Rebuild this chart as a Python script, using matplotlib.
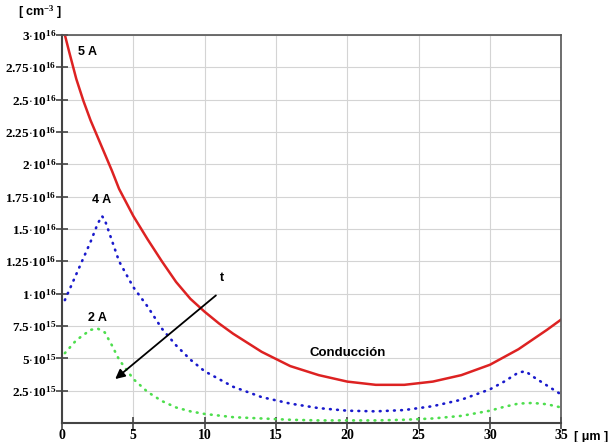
"""
Concentracion de portadores frente a la posicion para varias corrientes.
"""

import matplotlib
matplotlib.use("Agg")
import matplotlib.pyplot as plt

# posicion (um) y concentracion (en unidades de 1e15 cm^-3)
x_5a = [0.2, 0.5, 1, 1.5, 2, 2.5, 3, 3.5, 4, 5, 6, 7, 8, 9, 10, 11, 12, 13,
        14, 16, 18, 20, 22, 24, 26, 28, 30, 32, 34, 35]
n_5a = [30.0, 28.7, 26.6, 24.9, 23.4, 22.1, 20.8, 19.5, 18.1, 16.0, 14.2,
        12.5, 10.9, 9.6, 8.6, 7.7, 6.9, 6.2, 5.5, 4.4, 3.7, 3.2, 2.95, 2.95,
        3.2, 3.7, 4.5, 5.7, 7.2, 8.0]

x_4a = [0.2, 1, 2, 2.5, 2.8, 3, 4, 5, 6, 7, 8, 9, 10, 12, 14, 16, 18, 20, 22,
        24, 26, 28, 30, 31, 32, 32.5, 33, 34, 35]
n_4a = [9.5, 11.5, 14.0, 15.4, 16.0, 15.7, 12.5, 10.5, 9.0, 7.3, 6.0, 4.9,
        4.0, 2.8, 2.0, 1.5, 1.15, 0.95, 0.9, 1.0, 1.3, 1.8, 2.6, 3.2, 3.9,
        4.0, 3.6, 2.9, 2.2]

x_2a = [0.2, 1, 2, 2.5, 3, 3.5, 4, 5, 6, 7, 8, 9, 10, 12, 14, 16, 18, 20, 22,
        24, 26, 28, 30, 31, 32, 33, 34, 35]
n_2a = [5.4, 6.4, 7.2, 7.3, 7.0, 6.0, 4.9, 3.4, 2.4, 1.7, 1.2, 0.9, 0.7,
        0.45, 0.35, 0.25, 0.2, 0.2, 0.2, 0.25, 0.35, 0.55, 0.95, 1.25, 1.5,
        1.55, 1.45, 1.2]

y_ticks = [2.5, 5, 7.5, 10, 12.5, 15, 17.5, 20, 22.5, 25, 27.5, 30]
y_labels = [r"$2.5{\cdot}10^{15}$", r"$5{\cdot}10^{15}$",
            r"$7.5{\cdot}10^{15}$", r"$1{\cdot}10^{16}$",
            r"$1.25{\cdot}10^{16}$", r"$1.5{\cdot}10^{16}$",
            r"$1.75{\cdot}10^{16}$", r"$2{\cdot}10^{16}$",
            r"$2.25{\cdot}10^{16}$", r"$2.5{\cdot}10^{16}$",
            r"$2.75{\cdot}10^{16}$", r"$3{\cdot}10^{16}$"]
x_ticks = [0, 5, 10, 15, 20, 25, 30, 35]

plt.rcParams["mathtext.fontset"] = "custom"
plt.rcParams["mathtext.rm"] = "Liberation Serif:bold"
plt.rcParams["mathtext.it"] = "Liberation Serif:bold"
plt.rcParams["font.family"] = ["Liberation Serif", "DejaVu Serif"]

fig = plt.figure(figsize=(6.14, 4.42), dpi=100)
ax = fig.add_axes([0.101, 0.043, 0.813, 0.878])

ax.plot(x_5a, n_5a, color="#dd2222", lw=1.8)
ax.plot(x_4a, n_4a, color="#1a1acc", lw=1.9, ls=(0, (0.3, 2.4)),
        dash_capstyle="round")
ax.plot(x_2a, n_2a, color="#4ede4e", lw=1.9, ls=(0, (0.3, 2.4)),
        dash_capstyle="round")

ax.set_xlim(0, 35)
ax.set_ylim(0, 30)
ax.set_xticks(x_ticks)
ax.set_xticklabels([str(t) for t in x_ticks], fontsize=10, fontweight="bold")
ax.set_yticks(y_ticks)
ax.set_yticklabels(y_labels, fontsize=9.5)
ax.tick_params(direction="inout", length=8, width=1.2, color="#444444", pad=0)
ax.grid(True, color="#d4d4d4", lw=0.8)

for side in ["left", "bottom"]:
    ax.spines[side].set_color("#444444")
    ax.spines[side].set_linewidth(1.5)
for side in ["top", "right"]:
    ax.spines[side].set_color("#555555")
    ax.spines[side].set_linewidth(1.2)

# flecha del tiempo
ax.annotate("", xy=(3.58, 3.26), xytext=(10.94, 10.0),
            arrowprops=dict(arrowstyle="-|>", color="black", lw=1.3,
                            mutation_scale=14))
sans = ["Liberation Sans", "DejaVu Sans"]
ax.text(11.2, 11.2, "t", fontsize=9, fontweight="bold", family=sans,
        ha="center", va="center")
ax.text(1.8, 28.7, "5 A", fontsize=9, fontweight="bold", family=sans,
        ha="center", va="center")
ax.text(2.8, 17.2, "4 A", fontsize=9, fontweight="bold", family=sans,
        ha="center", va="center")
ax.text(2.45, 8.1, "2 A", fontsize=9, fontweight="bold", family=sans,
        ha="center", va="center")
ax.text(20, 5.4, "Conducción", fontsize=9.5, fontweight="bold", family=sans,
        ha="center", va="center")

fig.text(0.065, 0.972, r"[ cm$^{-3}$ ]", fontsize=9, fontweight="bold",
         family=sans, ha="center", va="center")
fig.text(0.962, 0.012, "[ μm ]", fontsize=9, fontweight="bold",
         family=sans, ha="center", va="center")

fig.savefig("out.png", dpi=100)
